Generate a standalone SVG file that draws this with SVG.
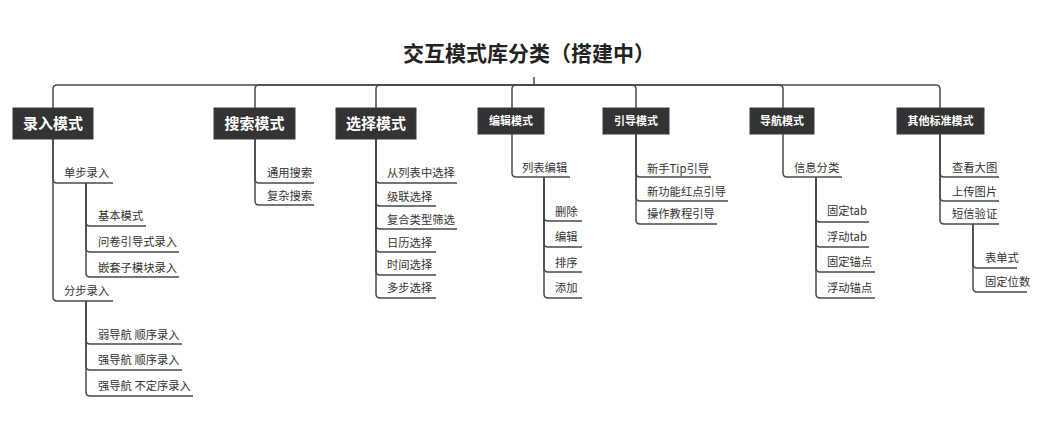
<svg xmlns="http://www.w3.org/2000/svg" width="1051" height="427" viewBox="0 0 1051 427">
<style>
text{font-family:"Noto Sans CJK SC","Noto Sans",sans-serif;fill:#333}
.t{font-size:21px;font-weight:bold;text-anchor:middle;fill:#222}
.m1{font-size:15px;font-weight:bold;fill:#fff;text-anchor:middle}
.m2{font-size:11px;font-weight:bold;fill:#fff;text-anchor:middle}
.c{font-size:11.3px}
.box{fill:#333;stroke:#3c3c3c;stroke-width:1}
path{fill:none;stroke:#4a4a4a;stroke-width:1.5}
</style>
<rect width="1051" height="427" fill="#fff"/>
<g id="title"><text class="t" x="529" y="61">交互模式库分类（搭建中）</text></g>
<g id="connectors">
<path d="M534,77V85"/>
<path d="M534,85H57Q53,85 53,89V108"/>
<path d="M534,85H259Q255,85 255,89V108"/>
<path d="M534,85H380Q376,85 376,89V108"/>
<path d="M534,85H516Q512,85 512,89V108"/>
<path d="M534,85H632Q636,85 636,89V108"/>
<path d="M534,85H779Q783,85 783,89V108"/>
<path d="M534,85H936Q940,85 940,89V108"/>
<path d="M53,139V179Q53,183 57,183H113"/>
<path d="M53,139V297Q53,301 57,301H113"/>
<path d="M86,183V222Q86,226 90,226H146"/>
<path d="M86,183V248Q86,252 90,252H179"/>
<path d="M86,183V273Q86,277 90,277H179"/>
<path d="M86,301V340Q86,344 90,344H182"/>
<path d="M86,301V366Q86,370 90,370H182"/>
<path d="M86,301V392Q86,396 90,396H193"/>
<path d="M255,139V179Q255,183 259,183H314"/>
<path d="M255,139V201Q255,205 259,205H314"/>
<path d="M376,139V179Q376,183 380,183H457"/>
<path d="M376,139V202Q376,206 380,206H436"/>
<path d="M376,139V225Q376,229 380,229H457"/>
<path d="M376,139V248Q376,252 380,252H436"/>
<path d="M376,139V271Q376,275 380,275H436"/>
<path d="M376,139V294Q376,298 380,298H436"/>
<path d="M512,134V173Q512,177 516,177H570"/>
<path d="M544,177V217Q544,221 548,221H582"/>
<path d="M544,177V243Q544,247 548,247H582"/>
<path d="M544,177V268Q544,272 548,272H582"/>
<path d="M544,177V294Q544,298 548,298H582"/>
<path d="M636,134V173Q636,177 640,177H711"/>
<path d="M636,134V197Q636,201 640,201H728"/>
<path d="M636,134V220Q636,224 640,224H717"/>
<path d="M783,134V173Q783,177 787,177H842"/>
<path d="M816,177V218Q816,222 820,222H869"/>
<path d="M816,177V243Q816,247 820,247H869"/>
<path d="M816,177V268Q816,272 820,272H875"/>
<path d="M816,177V294Q816,298 820,298H875"/>
<path d="M940,134V173Q940,177 944,177H999"/>
<path d="M940,134V197Q940,201 944,201H999"/>
<path d="M940,134V220Q940,224 944,224H999"/>
<path d="M973,224V264Q973,268 977,268H1017"/>
<path d="M973,224V288Q973,292 977,292H1027"/>
</g>
<g id="n-luru"><rect class="box" x="13" y="108" width="80" height="31"/><text class="m1" x="53" y="129">录入模式</text></g>
<g id="n-sousuo"><rect class="box" x="214" y="108" width="81" height="31"/><text class="m1" x="254.5" y="129">搜索模式</text></g>
<g id="n-xuanze"><rect class="box" x="336" y="108" width="80" height="31"/><text class="m1" x="376" y="129">选择模式</text></g>
<g id="n-bianji"><rect class="box" x="478" y="108" width="66" height="26"/><text class="m2" x="511" y="125">编辑模式</text></g>
<g id="n-yindao"><rect class="box" x="603" y="108" width="66" height="26"/><text class="m2" x="636" y="125">引导模式</text></g>
<g id="n-daohang"><rect class="box" x="750" y="108" width="64" height="26"/><text class="m2" x="782" y="125">导航模式</text></g>
<g id="n-qita"><rect class="box" x="897" y="108" width="87" height="26"/><text class="m2" x="940.5" y="125">其他标准模式</text></g>
<g id="c-luru">
<text class="c" x="64" y="177">单步录入</text>
<text class="c" x="98" y="220">基本模式</text>
<text class="c" x="98" y="246">问卷引导式录入</text>
<text class="c" x="98" y="272">嵌套子模块录入</text>
<text class="c" x="64" y="295">分步录入</text>
<text class="c" x="98" y="339">弱导航 顺序录入</text>
<text class="c" x="98" y="364">强导航 顺序录入</text>
<text class="c" x="98" y="390">强导航 不定序录入</text>
</g>
<g id="c-sousuo">
<text class="c" x="267" y="177">通用搜索</text>
<text class="c" x="267" y="200">复杂搜索</text>
</g>
<g id="c-xuanze">
<text class="c" x="387" y="177">从列表中选择</text>
<text class="c" x="387" y="201">级联选择</text>
<text class="c" x="387" y="224">复合类型筛选</text>
<text class="c" x="387" y="247">日历选择</text>
<text class="c" x="387" y="269">时间选择</text>
<text class="c" x="387" y="292">多步选择</text>
</g>
<g id="c-bianji">
<text class="c" x="522" y="172">列表编辑</text>
<text class="c" x="555" y="216">删除</text>
<text class="c" x="555" y="241">编辑</text>
<text class="c" x="555" y="267">排序</text>
<text class="c" x="555" y="292">添加</text>
</g>
<g id="c-yindao">
<text class="c" x="647" y="173">新手Tip引导</text>
<text class="c" x="647" y="196">新功能红点引导</text>
<text class="c" x="647" y="218">操作教程引导</text>
</g>
<g id="c-daohang">
<text class="c" x="794" y="172">信息分类</text>
<text class="c" x="827" y="215">固定tab</text>
<text class="c" x="827" y="241">浮动tab</text>
<text class="c" x="827" y="266">固定锚点</text>
<text class="c" x="827" y="292">浮动锚点</text>
</g>
<g id="c-qita">
<text class="c" x="952" y="172">查看大图</text>
<text class="c" x="952" y="196">上传图片</text>
<text class="c" x="952" y="218">短信验证</text>
<text class="c" x="985" y="262">表单式</text>
<text class="c" x="985" y="286">固定位数</text>
</g>
</svg>
